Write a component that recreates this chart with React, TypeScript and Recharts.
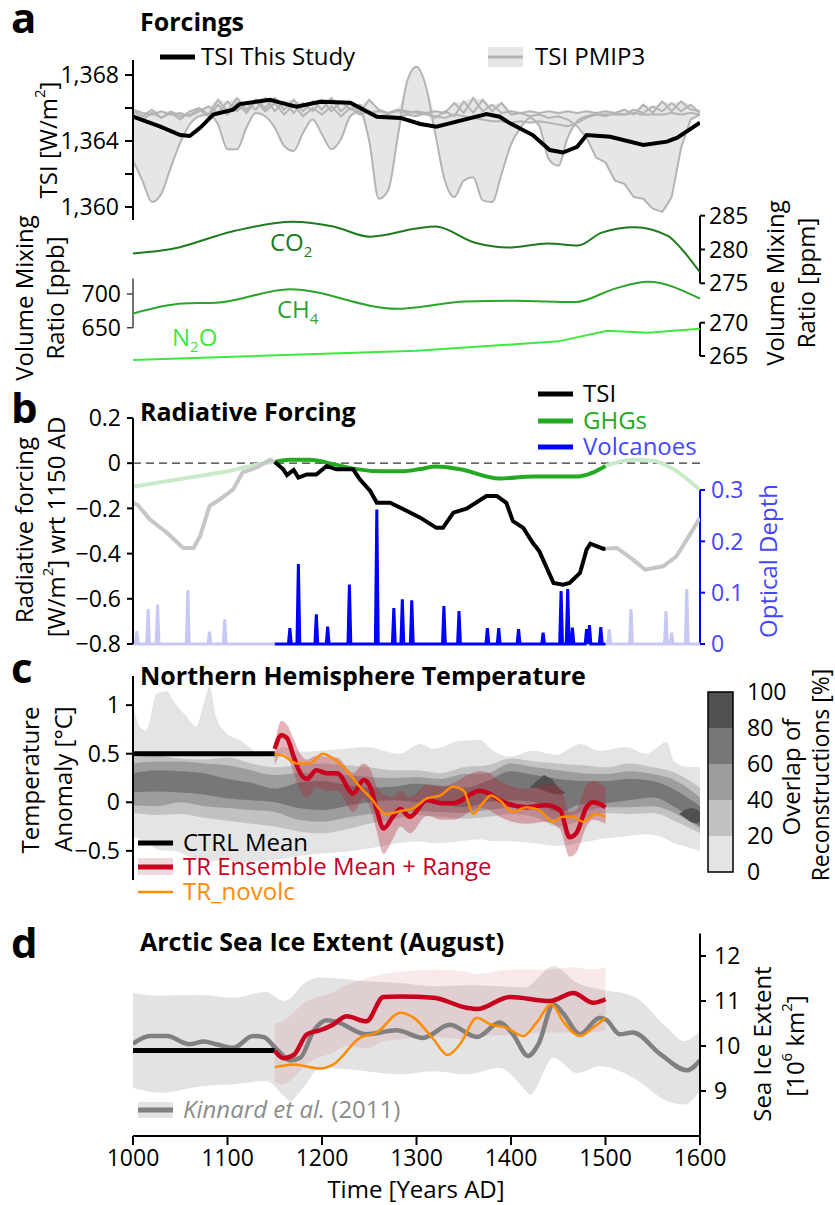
import React from 'react'
import {
  ComposedChart,
  BarChart,
  Bar,
  Line,
  Area,
  XAxis,
  YAxis,
  ReferenceLine,
} from 'recharts'

const FONT = '"Open Sans", "Noto Sans", sans-serif'
const W = 835

// ---------- panel a: TSI ----------
const tsiYears = [1000, 1029, 1050, 1060, 1071, 1085, 1106, 1113, 1145, 1159, 1173, 1198, 1230, 1258, 1272, 1283, 1304, 1321, 1335, 1374, 1388, 1399, 1423, 1441, 1455, 1470, 1480, 1505, 1540, 1565, 1576, 1600]
const tsiValues = [1365.47, 1364.87, 1364.36, 1364.3, 1364.8, 1365.6, 1365.9, 1366.24, 1366.5, 1366.28, 1366.08, 1366.38, 1366.32, 1365.47, 1365.43, 1365.4, 1365.03, 1364.87, 1365.07, 1365.64, 1365.47, 1365.07, 1364.36, 1363.45, 1363.3, 1363.65, 1364.36, 1364.26, 1363.76, 1363.96, 1364.2, 1365.11]

const pmipYears = [1000, 1010, 1020, 1030, 1040, 1050, 1060, 1070, 1080, 1090, 1100, 1110, 1120, 1130, 1140, 1150, 1160, 1170, 1180, 1190, 1200, 1210, 1220, 1230, 1240, 1250, 1260, 1270, 1280, 1290, 1300, 1310, 1320, 1330, 1340, 1350, 1360, 1370, 1380, 1390, 1400, 1410, 1420, 1430, 1440, 1450, 1460, 1470, 1480, 1490, 1500, 1510, 1520, 1530, 1540, 1550, 1560, 1570, 1580, 1590, 1600]
const pmipA = [1362.8, 1361.6, 1360.3, 1360.8, 1362.4, 1363.9, 1365.0, 1365.5, 1365.6, 1365.0,
  1363.5, 1363.5, 1364.8, 1365.7, 1365.5, 1364.8, 1363.7, 1363.4, 1364.5, 1365.3,
  1364.4, 1363.5, 1364.1, 1365.5, 1365.8, 1364.0, 1360.5, 1361.0, 1364.2, 1367.6,
  1368.5, 1367.3, 1364.4, 1361.6, 1360.6, 1361.6, 1361.8, 1360.4, 1360.3, 1362.0,
  1363.8, 1364.8, 1365.4, 1364.9, 1362.9, 1362.5, 1364.2, 1365.2, 1365.5, 1365.6,
  1365.6, 1365.6, 1365.6, 1365.7, 1365.6, 1365.6, 1365.6, 1365.7, 1365.6, 1365.7,
  1365.6]
const pmipB = [1365.6, 1365.3, 1365.7, 1365.4, 1365.8, 1365.5, 1365.6, 1365.9, 1365.5, 1366.2,
  1365.6, 1366.3, 1365.7, 1366.4, 1365.8, 1366.3, 1365.6, 1366.2, 1365.5, 1366.0,
  1365.6, 1366.1, 1365.5, 1366.0, 1365.6, 1365.8, 1365.5, 1365.6, 1365.4, 1365.6,
  1365.5, 1365.7, 1365.4, 1365.8, 1365.5, 1366.4, 1365.7, 1366.5, 1365.8, 1366.3,
  1365.6, 1365.7, 1365.5, 1365.6, 1365.4, 1365.5, 1365.3, 1364.9, 1364.2, 1363.0,
  1362.7, 1361.6, 1361.4, 1360.6, 1360.5, 1359.9, 1359.7, 1360.6, 1363.6, 1365.3,
  1365.6]
const pmipC = [1365.8, 1365.5, 1365.9, 1365.4, 1365.7, 1365.3, 1365.8, 1366.0, 1365.6, 1366.5,
  1365.8, 1366.6, 1365.9, 1366.5, 1366.0, 1366.6, 1365.9, 1366.5, 1365.8, 1366.4,
  1365.9, 1366.6, 1365.8, 1366.3, 1365.7, 1366.5, 1365.9, 1365.7, 1365.9, 1365.8,
  1365.7, 1365.6, 1365.5, 1365.4, 1365.6, 1365.5, 1365.4, 1365.3, 1365.2, 1365.2,
  1365.1, 1365.2, 1365.1, 1365.2, 1365.1, 1365.0, 1364.9, 1365.1, 1365.4, 1365.6,
  1365.5, 1365.7, 1365.6, 1365.9, 1365.7, 1366.1, 1365.8, 1366.3, 1365.8, 1366.2,
  1365.7]
const pmipD = [1365.9, 1365.7, 1365.6, 1365.8, 1365.6, 1365.7, 1365.5, 1365.8, 1366.1, 1365.7,
  1366.4, 1365.8, 1366.3, 1365.9, 1366.6, 1365.8, 1366.4, 1365.7, 1366.3, 1365.8,
  1366.5, 1365.8, 1366.4, 1365.9, 1366.2, 1365.7, 1365.8, 1365.7, 1365.8, 1365.7,
  1365.8, 1365.7, 1365.8, 1365.7, 1366.3, 1365.7, 1366.6, 1365.8, 1366.2, 1365.7,
  1365.8, 1365.7, 1365.8, 1365.7, 1365.8, 1365.7, 1365.8, 1365.7, 1365.8, 1365.7,
  1365.8, 1365.7, 1365.9, 1365.6, 1366.2, 1365.7, 1366.4, 1365.8, 1366.4, 1365.9,
  1365.8]

// ---------- panel a: greenhouse gases ----------
const co2Years = [1000, 1042, 1106, 1169, 1212, 1251, 1300, 1320, 1362, 1397, 1439, 1471, 1496, 1531, 1566, 1581, 1600]
const co2Values = [279.4, 280.1, 282.7, 284.1, 283.4, 281.9, 283.1, 283.4, 281.0, 280.3, 280.9, 280.6, 282.5, 283.3, 282.0, 280.0, 276.6]
const ch4Years = [1000, 1053, 1088, 1166, 1279, 1298, 1351, 1404, 1468, 1510, 1545, 1600]
const ch4Values = [671, 686, 687, 707, 678, 680, 689, 690, 688, 708, 718, 693]
const n2oYears = [1000, 1300, 1450, 1502, 1545, 1600]
const n2oValues = [264.4, 265.8, 267.2, 268.8, 268.5, 269.1]

// ---------- panel b: radiative forcing ----------
const rfTsiYears = [1000, 1005, 1018, 1036, 1053, 1064, 1071, 1081, 1092, 1106, 1116, 1131, 1145, 1150, 1159, 1163, 1170, 1175, 1184, 1194, 1205, 1215, 1233, 1240, 1251, 1258, 1272, 1283, 1304, 1321, 1328, 1339, 1353, 1374, 1385, 1395, 1402, 1413, 1423, 1430, 1445, 1455, 1462, 1473, 1480, 1484, 1498, 1500, 1512, 1529, 1542, 1561, 1575, 1586, 1600]
const rfTsiValues = [-0.175, -0.185, -0.249, -0.308, -0.375, -0.375, -0.323, -0.19, -0.16, -0.116, -0.041, -0.019, 0.015, 0.005, -0.027, -0.053, -0.03, -0.064, -0.05, -0.05, -0.012, -0.027, -0.027, -0.071, -0.123, -0.175, -0.175, -0.197, -0.241, -0.286, -0.286, -0.219, -0.201, -0.145, -0.145, -0.175, -0.256, -0.286, -0.352, -0.39, -0.53, -0.538, -0.53, -0.486, -0.382, -0.356, -0.379, -0.378, -0.375, -0.427, -0.471, -0.456, -0.412, -0.338, -0.241]
const rfGhgYears = [1000, 1050, 1100, 1134, 1150, 1166, 1187, 1212, 1233, 1265, 1285, 1304, 1321, 1346, 1388, 1423, 1470, 1500, 1529, 1550, 1572, 1600]
const rfGhgValues = [-0.104, -0.07, -0.036, -0.004, 0.005, 0.015, 0.015, -0.004, -0.024, -0.036, -0.036, -0.026, -0.015, -0.027, -0.068, -0.059, -0.059, -0.012, 0.015, 0.011, -0.027, -0.119]
const volcYears = [1004, 1016, 1026, 1058, 1081, 1097, 1166, 1175, 1194, 1206, 1229, 1258, 1276, 1285, 1295, 1329, 1345, 1375, 1387, 1408, 1434, 1453, 1460, 1465, 1480, 1483, 1495, 1504, 1527, 1564, 1570, 1586]
const volcDepth = [0.025, 0.068, 0.077, 0.105, 0.024, 0.048, 0.031, 0.156, 0.058, 0.034, 0.116, 0.262, 0.07, 0.087, 0.085, 0.074, 0.064, 0.031, 0.031, 0.029, 0.022, 0.103, 0.107, 0.032, 0.029, 0.037, 0.033, 0.029, 0.068, 0.064, 0.022, 0.107]

// ---------- panel c: NH temperature ----------
const recoOuterYears = [1000, 1007, 1014, 1025, 1036, 1043, 1057, 1067, 1074, 1081, 1088, 1099, 1113, 1141, 1159, 1176, 1212, 1247, 1282, 1304, 1318, 1346, 1367, 1381, 1399, 1423, 1448, 1473, 1494, 1522, 1543, 1565, 1572, 1583, 1600]
const recoOuterHi = [1.02, 0.78, 0.74, 1.12, 1.14, 1.04, 0.88, 0.78, 0.99, 1.19, 0.88, 0.71, 0.64, 0.47, 0.57, 0.52, 0.54, 0.57, 0.5, 0.6, 0.55, 0.63, 0.64, 0.53, 0.47, 0.53, 0.49, 0.6, 0.53, 0.57, 0.5, 0.62, 0.43, 0.37, 0.36]
const recoOuterLo = [-0.35, -0.38, -0.42, -0.48, -0.5, -0.5, -0.55, -0.58, -0.6, -0.62, -0.6, -0.6, -0.62, -0.6, -0.58, -0.55, -0.52, -0.48, -0.42, -0.4, -0.42, -0.4, -0.38, -0.4, -0.4, -0.42, -0.45, -0.42, -0.38, -0.35, -0.33, -0.38, -0.42, -0.45, -0.5]
const recoYears = [1000, 1025, 1050, 1075, 1100, 1125, 1150, 1175, 1200, 1225, 1250, 1275, 1300, 1325, 1350, 1375, 1400, 1425, 1450, 1475, 1500, 1525, 1550, 1575, 1600]
const reco20Hi = [0.46, 0.48, 0.45, 0.44, 0.46, 0.40, 0.36, 0.38, 0.40, 0.38, 0.36, 0.33, 0.33, 0.30, 0.36, 0.38, 0.45, 0.42, 0.40, 0.38, 0.36, 0.40, 0.36, 0.30, 0.15]
const reco20Lo = [-0.11, -0.13, -0.12, -0.16, -0.19, -0.22, -0.25, -0.30, -0.32, -0.28, -0.22, -0.18, -0.13, -0.15, -0.17, -0.15, -0.12, -0.15, -0.25, -0.18, -0.11, -0.12, -0.11, -0.20, -0.32]
const reco40Hi = [0.40, 0.42, 0.42, 0.40, 0.38, 0.33, 0.28, 0.30, 0.30, 0.28, 0.26, 0.25, 0.26, 0.24, 0.29, 0.30, 0.40, 0.36, 0.33, 0.30, 0.29, 0.32, 0.29, 0.22, 0.05]
const reco40Lo = [-0.03, -0.04, 0.0, -0.04, -0.06, -0.08, -0.10, -0.18, -0.20, -0.16, -0.12, -0.10, -0.09, -0.10, -0.11, -0.08, -0.06, -0.08, -0.18, -0.10, -0.05, -0.05, -0.04, -0.12, -0.27]
const reco60Hi = [0.30, 0.33, 0.32, 0.30, 0.24, 0.20, 0.14, 0.20, 0.22, 0.18, 0.15, 0.16, 0.19, 0.17, 0.15, 0.22, 0.32, 0.28, 0.24, 0.22, 0.22, 0.24, 0.22, 0.12, -0.04]
const reco60Lo = [0.10, 0.11, 0.10, 0.08, 0.04, 0.02, 0.00, -0.06, -0.08, -0.04, 0.00, 0.02, 0.00, -0.02, -0.05, 0.00, 0.02, 0.00, -0.10, -0.02, -0.01, 0.02, 0.05, -0.06, -0.25]
// densest overlap only shows in a few spots; zero-width elsewhere
const reco80Years = [1000, 1420, 1427, 1435, 1443, 1452, 1458, 1578, 1584, 1590, 1596, 1600]
const reco80Hi = [0.15, 0.15, 0.22, 0.28, 0.24, 0.13, 0.1, -0.12, -0.08, -0.06, -0.07, -0.1]
const reco80Lo = [0.15, 0.15, 0.15, 0.12, 0.09, 0.08, 0.1, -0.12, -0.16, -0.2, -0.22, -0.2]

const ctrlYears = [1000, 1150]
const ctrlTemp = [0.5, 0.5]
const trYears = [1150, 1157, 1163, 1170, 1177, 1184, 1194, 1205, 1216, 1233, 1244, 1251, 1258, 1265, 1275, 1283, 1293, 1311, 1328, 1339, 1367, 1377, 1388, 1416, 1437, 1452, 1462, 1469, 1480, 1487, 1500]
const trMean = [0.55, 0.69, 0.66, 0.47, 0.30, 0.24, 0.33, 0.30, 0.30, 0.09, 0.23, 0.16, -0.08, -0.27, -0.15, -0.07, -0.15, 0.02, -0.01, -0.01, 0.12, 0.09, 0.02, -0.05, -0.03, -0.08, -0.36, -0.32, -0.05, 0.00, -0.05]
const trHi = [0.60, 0.84, 0.80, 0.65, 0.50, 0.44, 0.48, 0.47, 0.46, 0.30, 0.40, 0.34, 0.16, 0.08, 0.06, 0.12, 0.05, 0.18, 0.16, 0.20, 0.32, 0.30, 0.22, 0.14, 0.18, 0.16, -0.10, -0.08, 0.18, 0.22, 0.15]
const trLo = [0.38, 0.50, 0.48, 0.30, 0.12, 0.05, 0.15, 0.12, 0.12, -0.10, 0.04, -0.05, -0.30, -0.53, -0.38, -0.25, -0.32, -0.14, -0.18, -0.18, -0.06, -0.08, -0.15, -0.22, -0.20, -0.28, -0.56, -0.52, -0.25, -0.18, -0.22]
const nvYears = [1150, 1159, 1173, 1187, 1201, 1212, 1226, 1240, 1251, 1268, 1283, 1297, 1311, 1325, 1339, 1350, 1360, 1370, 1379, 1388, 1402, 1416, 1430, 1444, 1455, 1466, 1476, 1490, 1500]
const nvTemp = [0.50, 0.48, 0.40, 0.40, 0.50, 0.45, 0.33, 0.16, 0.05, -0.12, -0.09, -0.06, 0.04, 0.07, 0.16, 0.12, -0.12, -0.01, 0.07, 0.02, -0.10, -0.05, -0.08, -0.20, -0.15, -0.15, -0.20, -0.12, -0.15]

const overlapShares = [20, 20, 20, 20, 20]
const overlapColors = ['#e4e4e4', '#c2c2c2', '#9d9d9d', '#777777', '#505050']

// ---------- panel d: sea ice ----------
const kinYears = [1000, 1018, 1036, 1060, 1075, 1088, 1106, 1127, 1138, 1152, 1166, 1177, 1191, 1205, 1216, 1247, 1279, 1307, 1335, 1364, 1388, 1402, 1418, 1429, 1445, 1455, 1473, 1494, 1501, 1515, 1529, 1558, 1586, 1600]
const kinIce = [10.05, 10.22, 10.22, 10.04, 10.1, 10.04, 9.96, 10.22, 10.2, 9.93, 9.68, 9.74, 10.33, 10.57, 10.53, 10.26, 10.35, 10.18, 10.47, 10.2, 10.52, 10.26, 9.78, 10.04, 10.93, 10.73, 10.26, 10.63, 10.58, 10.26, 10.3, 9.82, 9.46, 9.68]
const kinBandYears = [1000, 1029, 1071, 1106, 1141, 1159, 1166, 1180, 1198, 1247, 1283, 1318, 1353, 1388, 1416, 1420, 1445, 1470, 1494, 1529, 1565, 1583, 1600]
const kinHi = [11.18, 11.12, 11.14, 11.07, 11.2, 11.0, 11.05, 11.37, 11.52, 11.44, 11.4, 11.33, 11.35, 11.33, 11.3, 11.35, 11.78, 11.4, 11.26, 11.11, 10.41, 10.11, 10.33]
const kinLo = [9.07, 8.96, 9.1, 9.15, 9.22, 8.9, 8.78, 9.07, 9.51, 9.44, 9.37, 9.44, 9.37, 9.51, 9.0, 8.92, 9.74, 9.4, 9.55, 9.3, 8.78, 8.7, 9.0]
const ctrlIce = [9.9, 9.9]
const iceTrYears = [1150, 1159, 1170, 1184, 1198, 1212, 1226, 1247, 1265, 1283, 1318, 1353, 1364, 1399, 1441, 1466, 1487, 1500]
const iceTrMean = [9.89, 9.73, 9.8, 10.26, 10.35, 10.48, 10.66, 10.55, 11.09, 11.1, 11.07, 10.85, 10.82, 11.09, 11.0, 11.18, 10.96, 11.04]
const iceTrHi = [10.5, 10.55, 10.75, 11.0, 11.1, 11.2, 11.35, 11.5, 11.6, 11.65, 11.7, 11.65, 11.6, 11.7, 11.7, 11.75, 11.7, 11.75]
const iceTrLo = [9.2, 9.15, 9.3, 9.6, 9.75, 9.85, 10.0, 9.95, 10.1, 10.15, 10.2, 10.15, 10.2, 10.25, 10.3, 10.3, 10.3, 10.35]
const iceNvYears = [1150, 1170, 1198, 1212, 1240, 1258, 1283, 1297, 1318, 1333, 1346, 1364, 1378, 1395, 1413, 1427, 1443, 1455, 1473, 1487, 1500]
const iceNv = [9.53, 9.59, 9.5, 9.59, 10.18, 10.3, 10.74, 10.63, 10.15, 9.8, 10.04, 10.63, 10.48, 10.41, 10.22, 10.52, 10.93, 10.55, 10.22, 10.41, 10.63]

const yearTicks = [1000, 1100, 1200, 1300, 1400, 1500, 1600]

// ---------- helpers ----------
type Row = { year: number; v: number }
const toRows = (xs: number[], ys: number[]): Row[] => xs.map((year, i) => ({ year, v: ys[i] }))
const toBand = (xs: number[], lo: number[], hi: number[]) => xs.map((year, i) => ({ year, r: [lo[i], hi[i]] }))
const between = (rows: Row[], a: number, b: number) => rows.filter((r) => r.year >= a && r.year <= b)

function spikes(from: number, to: number): Row[] {
  const pts: Row[] = [{ year: from, v: 0 }, { year: to, v: 0 }]
  volcYears.forEach((y, i) => {
    if (y < from || y > to) return
    pts.push({ year: y - 1.5, v: 0 }, { year: y, v: volcDepth[i] }, { year: y + 1.5, v: 0 })
  })
  return pts.sort((a, b) => a.year - b.year)
}

const pmipLines = [pmipA, pmipB, pmipC, pmipD]
const pmipBand = pmipYears.map((year, i) => {
  const vals = pmipLines.map((l) => l[i])
  return { year, r: [Math.min(...vals), Math.max(...vals)] }
})

const rfTsi = toRows(rfTsiYears, rfTsiValues)
const rfGhg = toRows(rfGhgYears, rfGhgValues)

const minus = (v: number) => (v < 0 ? '\u2212' + Math.abs(v) : String(v))
const fmtTsi = (v: number) => (v === 1362 || v === 1366 ? '' : v.toLocaleString('en-US'))

const tickFont = { fontSize: 23, fill: '#000', fontFamily: FONT }
const blueFont = { fontSize: 23, fill: '#4646ff', fontFamily: FONT }
const axisBlack = { stroke: '#000', strokeWidth: 2 }
const noAnim = { dot: false, activeDot: false, isAnimationActive: false }

// plot area runs from x=133 to x=700 in every panel
const AXW = 60
const mLeftAxis = { left: 133 - AXW }
const mRightAxis = { right: 135 - AXW }

const hiddenX = <XAxis type="number" dataKey="year" domain={[1000, 1600]} allowDataOverflow hide />

const box = (top: number, height: number): React.CSSProperties => ({
  position: 'absolute',
  left: 0,
  top,
  width: W,
  height,
})

function Rot({ x, y, children, fill = '#000', size = 24 }: { x: number; y: number; children: React.ReactNode; fill?: string; size?: number }) {
  return (
    <text
      transform={`translate(${x},${y}) rotate(-90)`}
      textAnchor="middle"
      dominantBaseline="central"
      fontSize={size}
      fill={fill}
    >
      {children}
    </text>
  )
}

export default function App() {
  return (
    <div style={{ position: 'absolute', left: 0, top: 0, width: W, height: 1205, background: '#fff', fontFamily: FONT }}>
      {/* a: TSI */}
      <div style={box(0, 230)}>
        <ComposedChart width={W} height={230} margin={{ top: 60, bottom: 10, ...mLeftAxis, right: 135 }}>
          {hiddenX}
          <YAxis yAxisId="tsi" width={AXW} domain={[1359.21, 1368.91]} allowDataOverflow
            ticks={[1360, 1362, 1364, 1366, 1368]} tickFormatter={fmtTsi} interval={0}
            tick={tickFont} tickSize={8} tickMargin={6} axisLine={axisBlack} tickLine={axisBlack} />
          <Area yAxisId="tsi" data={pmipBand} dataKey="r" type="monotone" stroke="none" fill="#e6e6e6" fillOpacity={1} isAnimationActive={false} />
          <Line yAxisId="tsi" data={toRows(pmipYears, pmipA)} dataKey="v" type="monotone" stroke="#b4b4b4" strokeWidth={2} {...noAnim} />
          <Line yAxisId="tsi" data={toRows(pmipYears, pmipB)} dataKey="v" stroke="#b4b4b4" strokeWidth={2} {...noAnim} />
          <Line yAxisId="tsi" data={toRows(pmipYears, pmipC)} dataKey="v" stroke="#b4b4b4" strokeWidth={2} {...noAnim} />
          <Line yAxisId="tsi" data={toRows(pmipYears, pmipD)} dataKey="v" stroke="#b4b4b4" strokeWidth={2} {...noAnim} />
          <Line yAxisId="tsi" data={toRows(tsiYears, tsiValues)} dataKey="v" stroke="#000" strokeWidth={4} {...noAnim} />
        </ComposedChart>
      </div>

      {/* a: CO2 and CH4 */}
      <div style={box(200, 170)}>
        <ComposedChart width={W} height={170} margin={{ top: 5, bottom: 5, ...mLeftAxis, ...mRightAxis }}>
          {hiddenX}
          <YAxis yAxisId="ch4" orientation="left" width={AXW} domain={[594.66, 832.05]} allowDataOverflow
            ticks={[650, 700]} interval={0} tick={tickFont} tickSize={6} tickMargin={6} axisLine={false}
            tickLine={{ stroke: '#444', strokeWidth: 1.5 }} />
          <YAxis yAxisId="co2" orientation="right" width={AXW} domain={[262.91, 286.58]} allowDataOverflow
            ticks={[275, 280, 285]} interval={0} tick={tickFont} tickSize={5} tickMargin={4} axisLine={false} tickLine={axisBlack} />
          <ReferenceLine yAxisId="ch4" segment={[{ x: 1000, y: 650 }, { x: 1000, y: 723 }]} stroke="#444" strokeWidth={1.5} />
          <ReferenceLine yAxisId="co2" segment={[{ x: 1600, y: 275 }, { x: 1600, y: 285 }]} stroke="#000" strokeWidth={2} />
          <Line yAxisId="co2" data={toRows(co2Years, co2Values)} dataKey="v" type="monotone" stroke="#1d7a1d" strokeWidth={2} {...noAnim} />
          <Line yAxisId="ch4" data={toRows(ch4Years, ch4Values)} dataKey="v" type="monotone" stroke="#2aa52a" strokeWidth={2} {...noAnim} />
        </ComposedChart>
      </div>

      {/* a: N2O (own right-hand axis) */}
      <div style={box(200, 170)}>
        <ComposedChart width={W} height={170} margin={{ top: 5, bottom: 5, left: 133, ...mRightAxis }}>
          {hiddenX}
          <YAxis yAxisId="n2o" orientation="right" width={AXW} domain={[263.65, 287.67]} allowDataOverflow
            ticks={[265, 270]} interval={0} tick={tickFont} tickSize={5} tickMargin={4} axisLine={false} tickLine={axisBlack} />
          <ReferenceLine yAxisId="n2o" segment={[{ x: 1600, y: 265 }, { x: 1600, y: 270 }]} stroke="#000" strokeWidth={2} />
          <Line yAxisId="n2o" data={toRows(n2oYears, n2oValues)} dataKey="v" stroke="#3ee83e" strokeWidth={2} {...noAnim} />
        </ComposedChart>
      </div>

      {/* b: radiative forcing */}
      <div style={box(380, 280)}>
        <ComposedChart width={W} height={280} margin={{ top: 38, bottom: 16, ...mLeftAxis, ...mRightAxis }}>
          {hiddenX}
          <YAxis yAxisId="rf" width={AXW} domain={[-0.8, 0.2]} allowDataOverflow
            ticks={[-0.8, -0.6, -0.4, -0.2, 0, 0.2]} tickFormatter={minus} interval={0}
            tick={tickFont} tickSize={6} tickMargin={6} axisLine={axisBlack} tickLine={axisBlack} />
          <YAxis yAxisId="od" orientation="right" width={AXW} domain={[0, 0.4403]}
            ticks={[0, 0.1, 0.2, 0.3]} interval={0} tick={blueFont} tickSize={5} tickMargin={6} axisLine={false}
            tickLine={{ stroke: '#0000ff', strokeWidth: 2 }} />
          <ReferenceLine yAxisId="od" segment={[{ x: 1600, y: 0 }, { x: 1600, y: 0.3 }]} stroke="#0000ff" strokeWidth={2} />
          <ReferenceLine yAxisId="rf" y={0} stroke="#333" strokeWidth={1.2} strokeDasharray="8 5" />
          <Line yAxisId="rf" data={between(rfGhg, 1000, 1150)} dataKey="v" type="monotone" stroke="#c8eac8" strokeWidth={4} {...noAnim} />
          <Line yAxisId="rf" data={between(rfGhg, 1500, 1600)} dataKey="v" type="monotone" stroke="#c8eac8" strokeWidth={4} {...noAnim} />
          <Line yAxisId="rf" data={between(rfGhg, 1150, 1500)} dataKey="v" type="monotone" stroke="#22aa22" strokeWidth={4} {...noAnim} />
          <Line yAxisId="rf" data={between(rfTsi, 1000, 1150)} dataKey="v" stroke="#c6c6c6" strokeWidth={4} {...noAnim} />
          <Line yAxisId="rf" data={between(rfTsi, 1500, 1600)} dataKey="v" stroke="#c6c6c6" strokeWidth={4} {...noAnim} />
          <Line yAxisId="rf" data={between(rfTsi, 1150, 1500)} dataKey="v" stroke="#000" strokeWidth={4} {...noAnim} />
          <Line yAxisId="od" data={spikes(1000, 1150)} dataKey="v" stroke="#c8c8f5" strokeWidth={3} {...noAnim} />
          <Line yAxisId="od" data={spikes(1500, 1600)} dataKey="v" stroke="#c8c8f5" strokeWidth={3} {...noAnim} />
          <Line yAxisId="od" data={spikes(1150, 1500)} dataKey="v" stroke="#0000ff" strokeWidth={3} {...noAnim} />
        </ComposedChart>
      </div>

      {/* c: temperature */}
      <div style={box(660, 230)}>
        <ComposedChart width={W} height={230} margin={{ top: 16, bottom: 10, ...mLeftAxis, right: 135 }}>
          {hiddenX}
          <YAxis yAxisId="t" width={AXW} domain={[-0.8, 1.3]} allowDataOverflow
            ticks={[-0.5, 0, 0.5, 1]} tickFormatter={minus} interval={0}
            tick={tickFont} tickSize={7} tickMargin={6} axisLine={axisBlack} tickLine={axisBlack} />
          <Area yAxisId="t" data={toBand(recoOuterYears, recoOuterLo, recoOuterHi)} dataKey="r" type="monotone" stroke="none" fill={overlapColors[0]} fillOpacity={1} isAnimationActive={false} />
          <Area yAxisId="t" data={toBand(recoYears, reco20Lo, reco20Hi)} dataKey="r" type="monotone" stroke="none" fill={overlapColors[1]} fillOpacity={1} isAnimationActive={false} />
          <Area yAxisId="t" data={toBand(recoYears, reco40Lo, reco40Hi)} dataKey="r" type="monotone" stroke="none" fill={overlapColors[2]} fillOpacity={1} isAnimationActive={false} />
          <Area yAxisId="t" data={toBand(recoYears, reco60Lo, reco60Hi)} dataKey="r" type="monotone" stroke="none" fill={overlapColors[3]} fillOpacity={1} isAnimationActive={false} />
          <Area yAxisId="t" data={toBand(reco80Years, reco80Lo, reco80Hi)} dataKey="r" type="linear" stroke="none" fill={overlapColors[4]} fillOpacity={1} isAnimationActive={false} />
          <Area yAxisId="t" data={toBand(trYears, trLo, trHi)} dataKey="r" type="monotone" stroke="none" fill="#b4283c" fillOpacity={0.35} isAnimationActive={false} />
          <Line yAxisId="t" data={toRows(ctrlYears, ctrlTemp)} dataKey="v" stroke="#000" strokeWidth={5} {...noAnim} />
          <Line yAxisId="t" data={toRows(trYears, trMean)} dataKey="v" type="monotone" stroke="#c8001e" strokeWidth={4.5} {...noAnim} />
          <Line yAxisId="t" data={toRows(nvYears, nvTemp)} dataKey="v" type="monotone" stroke="#ff8c00" strokeWidth={2.5} {...noAnim} />
        </ComposedChart>
      </div>

      {/* c: overlap colour bar */}
      <div style={box(660, 230)}>
        <BarChart width={W} height={230} data={[{ name: 'overlap', ...Object.fromEntries(overlapShares.map((s, i) => ['b' + i, s])) }]}
          margin={{ top: 32, bottom: 18, left: 708, right: 835 - 733 - AXW }} barCategoryGap={0}>
          <XAxis type="category" dataKey="name" hide />
          <YAxis orientation="right" width={AXW} domain={[0, 100]} allowDataOverflow ticks={[0, 20, 40, 60, 80, 100]} interval={0}
            tick={tickFont} axisLine={false} tickLine={false} tickMargin={8} />
          {overlapShares.map((_, i) => (
            <Bar key={i} dataKey={'b' + i} stackId="cb" fill={overlapColors[i]} isAnimationActive={false} />
          ))}
        </BarChart>
      </div>

      {/* d: sea ice */}
      <div style={box(900, 305)}>
        <ComposedChart width={W} height={305} margin={{ top: 33.5, bottom: 29, left: 133, ...mRightAxis }}>
          <XAxis type="number" dataKey="year" domain={[1000, 1600]} allowDataOverflow ticks={yearTicks} interval={0}
            height={40} tick={tickFont} tickSize={9} tickMargin={5} axisLine={axisBlack} tickLine={axisBlack} />
          <YAxis yAxisId="ice" orientation="right" width={AXW} domain={[8, 12.5]} allowDataOverflow
            ticks={[9, 10, 11, 12]} interval={0} tick={tickFont} tickSize={6} tickMargin={8} axisLine={axisBlack} tickLine={axisBlack} />
          <Area yAxisId="ice" data={toBand(kinBandYears, kinLo, kinHi)} dataKey="r" type="monotone" stroke="none" fill="#e3e3e3" fillOpacity={1} isAnimationActive={false} />
          <Area yAxisId="ice" data={toBand(iceTrYears, iceTrLo, iceTrHi)} dataKey="r" type="monotone" stroke="none" fill="#c8283c" fillOpacity={0.1} isAnimationActive={false} />
          <Line yAxisId="ice" data={toRows(kinYears, kinIce)} dataKey="v" type="monotone" stroke="#808080" strokeWidth={4.5} {...noAnim} />
          <Line yAxisId="ice" data={toRows(ctrlYears, ctrlIce)} dataKey="v" stroke="#000" strokeWidth={5} {...noAnim} />
          <Line yAxisId="ice" data={toRows(iceTrYears, iceTrMean)} dataKey="v" type="monotone" stroke="#c8001e" strokeWidth={4.5} {...noAnim} />
          <Line yAxisId="ice" data={toRows(iceNvYears, iceNv)} dataKey="v" type="monotone" stroke="#ff8c00" strokeWidth={2.5} {...noAnim} />
        </ComposedChart>
      </div>

      {/* text, legends */}
      <svg width={W} height={1205} style={{ position: 'absolute', left: 0, top: 0, pointerEvents: 'none' }} fontFamily={FONT}>
        <g fontSize={42} fontWeight="bold">
          <text x={11} y={33}>a</text>
          <text x={11} y={423}>b</text>
          <text x={11} y={683}>c</text>
          <text x={11} y={958}>d</text>
        </g>
        <g fontSize={25} fontWeight="bold">
          <text x={140} y={31}>Forcings</text>
          <text x={140} y={421}>Radiative Forcing</text>
          <text x={140} y={685}>Northern Hemisphere Temperature</text>
          <text x={140} y={951}>Arctic Sea Ice Extent (August)</text>
        </g>

        {/* a legend */}
        <line x1={160} x2={195} y1={57} y2={57} stroke="#000" strokeWidth={5} />
        <text x={201} y={65} fontSize={24}>TSI This Study</text>
        <rect x={488} y={47} width={35} height={20} fill="#e6e6e6" />
        <line x1={488} x2={523} y1={57} y2={57} stroke="#b4b4b4" strokeWidth={3} />
        <text x={535} y={65} fontSize={24}>TSI PMIP3</text>

        <Rot x={47} y={140}>TSI [W/m<tspan dy={-8} fontSize={15}>2</tspan><tspan dy={8}>]</tspan></Rot>

        {/* GHG labels */}
        <text x={270} y={251} fontSize={24} fill="#1d7a1d">CO<tspan dy={6} fontSize={15}>2</tspan></text>
        <text x={277} y={318} fontSize={24} fill="#2aa52a">CH<tspan dy={6} fontSize={15}>4</tspan></text>
        <text x={172} y={346} fontSize={24} fill="#3ee83e">N<tspan dy={6} fontSize={15}>2</tspan><tspan dy={-6}>O</tspan></text>
        <Rot x={23} y={298}>Volume Mixing</Rot>
        <Rot x={54} y={298}>Ratio [ppb]</Rot>
        <Rot x={774} y={283}>Volume Mixing</Rot>
        <Rot x={805} y={283}>Ratio [ppm]</Rot>

        {/* b legend and labels */}
        <line x1={538} x2={573} y1={394} y2={394} stroke="#000" strokeWidth={5} />
        <text x={583} y={402} fontSize={24}>TSI</text>
        <line x1={538} x2={573} y1={421} y2={421} stroke="#22aa22" strokeWidth={5} />
        <text x={583} y={429} fontSize={24} fill="#22aa22">GHGs</text>
        <line x1={538} x2={573} y1={447} y2={447} stroke="#0000ff" strokeWidth={5} />
        <text x={583} y={455} fontSize={24} fill="#4646ff">Volcanoes</text>
        <Rot x={23} y={530}>Radiative forcing</Rot>
        <Rot x={55} y={527}>[W/m<tspan dy={-8} fontSize={15}>2</tspan><tspan dy={8}>] wrt 1150 AD</tspan></Rot>
        <Rot x={767} y={561} fill="#4646ff">Optical Depth</Rot>

        {/* c legend and labels */}
        <line x1={138} x2={173} y1={843} y2={843} stroke="#000" strokeWidth={5} />
        <text x={183} y={851} fontSize={24}>CTRL Mean</text>
        <rect x={138} y={858} width={35} height={17} fill="#eed9dd" />
        <line x1={138} x2={173} y1={867} y2={867} stroke="#c8001e" strokeWidth={5} />
        <text x={183} y={875} fontSize={24} fill="#c8001e">TR Ensemble Mean + Range</text>
        <line x1={138} x2={173} y1={892} y2={892} stroke="#ff8c00" strokeWidth={2.5} />
        <text x={183} y={900} fontSize={24} fill="#ff8c00">TR_novolc</text>
        <Rot x={29} y={780}>Temperature</Rot>
        <Rot x={62} y={779}>Anomaly [°C]</Rot>
        <rect x={708} y={692} width={25} height={180} fill="none" stroke="#000" strokeWidth={1.5} />
        <Rot x={790} y={777}>Overlap of</Rot>
        <Rot x={820} y={775} size={23}>Reconstructions [%]</Rot>

        {/* d legend and labels */}
        <rect x={138} y={1102} width={35} height={16} fill="#e3e3e3" />
        <line x1={138} x2={173} y1={1110} y2={1110} stroke="#808080" strokeWidth={5} />
        <text x={183} y={1118} fontSize={24} fill="#8c8c8c"><tspan fontStyle="italic">Kinnard et al.</tspan> (2011)</text>
        <Rot x={761} y={1044}>Sea Ice Extent</Rot>
        <Rot x={794} y={1046}>[10<tspan dy={-8} fontSize={15}>6</tspan><tspan dy={8}> km</tspan><tspan dy={-8} fontSize={15}>2</tspan><tspan dy={8}>]</tspan></Rot>
        <text x={416} y={1198} fontSize={24} textAnchor="middle">Time [Years AD]</text>
      </svg>
    </div>
  )
}
